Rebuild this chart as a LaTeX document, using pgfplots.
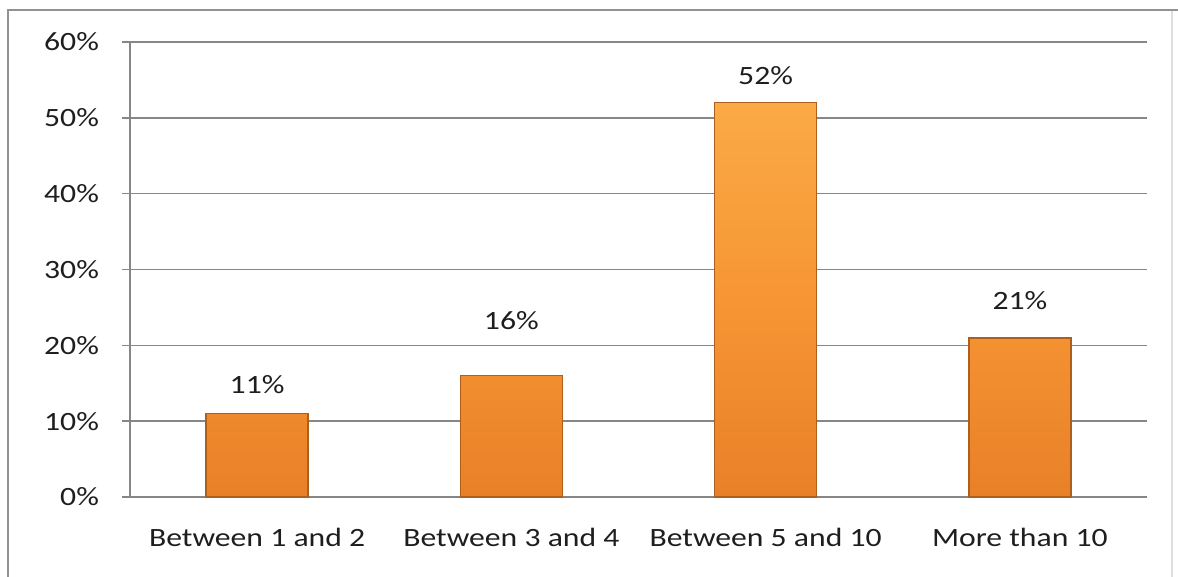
\documentclass[border=0pt]{standalone}
\usepackage{pgfplots}
\pgfplotsset{compat=1.18}
\usepackage{fontspec}
\setmainfont{Carlito}[FakeStretch=1.2]
\definecolor{gridc}{RGB}{134,134,134}
\definecolor{barT}{RGB}{250,170,70}
\definecolor{barM}{RGB}{247,149,52}
\definecolor{barB}{RGB}{232,128,40}
\definecolor{barD}{RGB}{175,95,28}
\definecolor{txt}{RGB}{30,30,30}
\begin{document}
\begin{tikzpicture}
\path[use as bounding box] (0,0) rectangle (589pt,288.5pt);
\draw[gridc!90, line width=1pt] (4pt,0) -- (4pt,283.5pt) -- (589pt,283.5pt);
\draw[gray!25, line width=0.8pt] (586pt,0) -- (586pt,283pt);
\begin{axis}[
  at={(65pt,40pt)}, anchor=south west,
  scale only axis,
  width=508.5pt, height=227.5pt,
  xmin=-0.5, xmax=3.5,
  ymin=0, ymax=60,
  axis lines*=left,
  axis line style={gridc, line width=0.75pt},
  ytick={0,10,...,60},
  yticklabel={\pgfmathprintnumber{\tick}\%},
  ymajorgrids,
  grid style={gridc, line width=0.75pt},
  tick align=outside,
  major tick length=4pt,
  ytick style={gridc, line width=0.75pt},
  xtick={0,1,2,3},
  xticklabels={Between 1 and 2,Between 3 and 4,Between 5 and 10,More than 10},
  xtick style={draw=none},
  extra x ticks={-0.5,0.5,1.5,2.5,3.5},
  extra x tick labels={},
  extra x tick style={grid=none, tick style={draw=gridc, line width=0.75pt}},
  tick label style={font=\fontsize{13.2}{15}\selectfont, text=txt},
  /pgf/number format/assume math mode=true,
  xticklabel style={yshift=-8pt},
  yticklabel style={xshift=-8pt},
  clip=false,
]
\addplot[ybar, bar width=51pt, draw=barD, line width=0.8pt,
  top color=barT, bottom color=barB, middle color=barM]
  coordinates {(0,11) (1,16) (2,52) (3,21)};
\addplot[draw=none, mark=none, nodes near coords, point meta=explicit symbolic,
  every node near coord/.append style={anchor=center, font=\fontsize{13.2}{15}\selectfont, text=txt}]
  coordinates {(0,14.8)[11\%] (1,23.3)[16\%] (2,55.6)[52\%] (3,25.85)[21\%]};
\end{axis}
\end{tikzpicture}
\end{document}
